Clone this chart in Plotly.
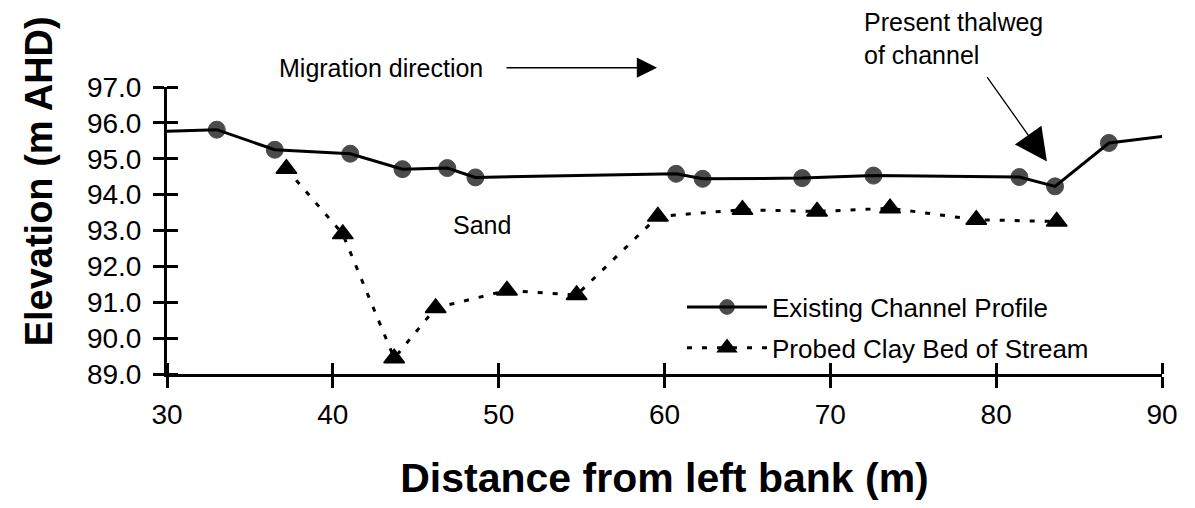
import plotly.graph_objects as go

# ---- data ----
profile_x = [29.6, 33.0, 36.5, 41.05, 44.2, 46.9, 48.6, 60.7, 62.3, 68.3, 72.6, 81.4, 83.55, 86.8, 90.4]
profile_y = [95.76, 95.81, 95.25, 95.14, 94.71, 94.74, 94.48, 94.58, 94.44, 94.46, 94.53, 94.49, 94.23, 95.44, 95.64]
# first/last entries are where the line runs off the axes (no marker drawn)
profile_marker_shown = [0, 1, 1, 1, 1, 1, 1, 1, 1, 1, 1, 1, 1, 1, 0]

clay_x = [37.2, 40.6, 43.7, 46.2, 50.5, 54.7, 59.6, 64.7, 69.2, 73.6, 78.8, 83.65]
clay_y = [94.72, 92.9, 89.44, 90.84, 91.33, 91.2, 93.39, 93.58, 93.53, 93.62, 93.3, 93.25]

x_ticks = [30, 40, 50, 60, 70, 80, 90]
y_ticks = [89, 90, 91, 92, 93, 94, 95, 96, 97]
y_tick_labels = ["89.0", "90.0", "91.0", "92.0", "93.0", "94.0", "95.0", "96.0", "97.0"]

FONT = "Arial, Liberation Sans, sans-serif"
MARKER_SIZE = 17

fig = go.Figure()
fig.add_trace(go.Scatter(
    x=profile_x, y=profile_y, mode="lines+markers",
    name="Existing Channel Profile", legendgroup="a",
    line=dict(color="black", width=3),
    marker=dict(symbol="circle", color="black",
                size=[MARKER_SIZE * s for s in profile_marker_shown],
                line=dict(color="black", width=1)),
))
fig.add_trace(go.Scatter(
    x=clay_x, y=clay_y, mode="lines+markers",
    name="Probed Clay Bed of Stream", legendgroup="b",
    line=dict(color="black", width=3, dash="5px,10px"),
    marker=dict(symbol="triangle-up", color="black", size=18,
                line=dict(color="black", width=1.5)),
))

axis_common = dict(showgrid=False, zeroline=False, color="black",
                   ticks="outside", ticklen=11, tickwidth=3, tickcolor="black",
                   showline=True, linewidth=3, linecolor="black")
fig.update_layout(
    width=1195, height=508,
    margin=dict(l=167, r=33, t=87, b=134),
    paper_bgcolor="white", plot_bgcolor="white",
    font=dict(family=FONT, color="black", size=24),
    xaxis=dict(range=[30, 90], tickvals=x_ticks, ticktext=[str(v) for v in x_ticks],
               minor=dict(tickvals=x_ticks, ticks="inside", ticklen=11, tickwidth=3,
                          tickcolor="black", showgrid=False),
               tickfont=dict(size=28), ticklabelstandoff=2,
               title=dict(text="Distance from left bank (m)",
                          font=dict(size=41, weight="bold"), standoff=35),
               **axis_common),
    yaxis=dict(range=[89, 97], tickvals=y_ticks, ticktext=y_tick_labels,
               minor=dict(tickvals=y_ticks, ticks="inside", ticklen=11, tickwidth=3,
                          tickcolor="black", showgrid=False),
               tickfont=dict(size=28), ticklabelstandoff=6,
               **axis_common),
    legend=dict(x=0.5176, y=0.315, xanchor="left", yanchor="top",
                bgcolor="rgba(0,0,0,0)", itemwidth=80, tracegroupgap=4,
                traceorder="grouped", font=dict(size=26)),
    showlegend=True,
)

annotations = [
    dict(text="Elevation (m AHD)", xref="paper", yref="paper", x=-0.129, y=0.67,
         textangle=-90, showarrow=False, font=dict(size=38, weight="bold"),
         xanchor="center", yanchor="middle"),
    dict(text="Migration direction", xref="paper", yref="paper", x=0.1108, y=1.0673,
         xanchor="left", yanchor="middle", showarrow=False, font=dict(size=25)),
    dict(text="", xref="paper", yref="paper", x=0.4925, y=1.0673,
         ax=-152, ay=0, showarrow=True, arrowhead=2, arrowsize=2.7,
         arrowwidth=1.5, arrowcolor="black"),
    dict(text="Present thalweg<br>of channel", xref="paper", yref="paper",
         x=0.6984, y=1.1702, xanchor="left", yanchor="middle", align="left",
         showarrow=False, font=dict(size=25)),
    dict(text="", xref="x", yref="y", x=83.06, y=94.92, axref="x", ayref="y",
         ax=79.39, ay=97.32, showarrow=True, arrowhead=2, arrowsize=5,
         arrowwidth=1.3, arrowcolor="black"),
    dict(text="Sand", xref="x", yref="y", x=48.99, y=93.16, showarrow=False,
         font=dict(size=25)),
]
for a in annotations:
    fig.add_annotation(**a)

fig.write_html("out.html")
